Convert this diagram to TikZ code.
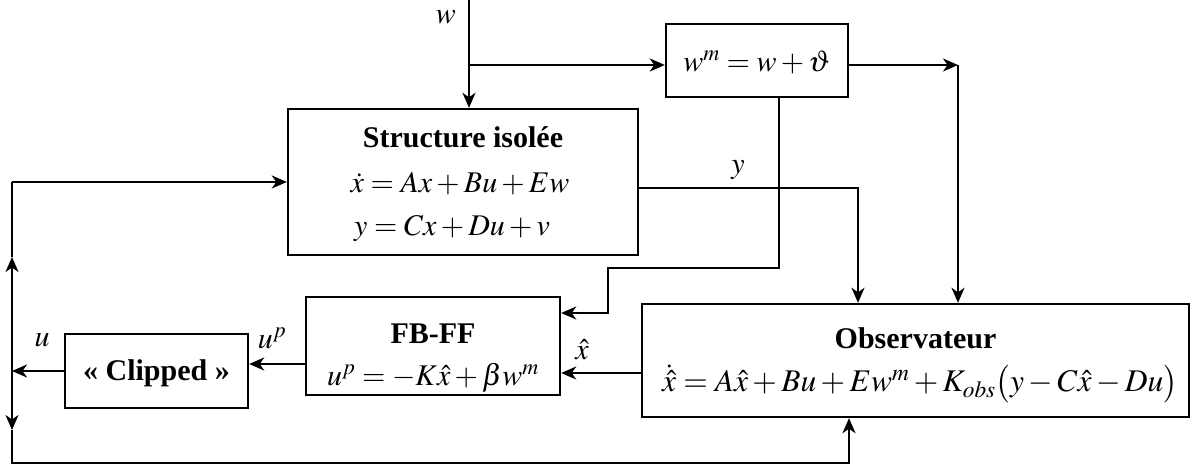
\documentclass[tikz,border=0pt]{standalone}
\usepackage{mathptmx}
\usepackage[no-math]{fontspec}
\setmainfont{Liberation Serif}
\usetikzlibrary{arrows.meta}
\begin{document}
\begin{tikzpicture}[x=1pt,y=1pt,
  line width=2.4pt,
  >={Stealth[length=15pt,width=13pt,inset=4.5pt]},
  blockbox/.style={draw,rectangle,inner sep=0pt},
  titletxt/.style={inner sep=0pt,font=\fontsize{30}{32}\selectfont\bfseries},
  eqtxt/.style={inner sep=0pt,font=\fontsize{30}{32}\selectfont},
  bigeq/.style={inner sep=0pt,font=\fontsize{31.5}{33}\selectfont},
  lbl/.style={inner sep=0pt,font=\fontsize{30}{32}\selectfont}]
\useasboundingbox (0,0) rectangle (1192,-468);
% boxes
\node[blockbox,minimum width=350pt,minimum height=146pt] (S) at (463,-182) {};
\node[blockbox,minimum width=182pt,minimum height=73pt] (W) at (757,-60.5) {};
\node[blockbox,minimum width=254pt,minimum height=98pt] (F) at (433,-346) {};
\node[blockbox,minimum width=183pt,minimum height=74pt] (C) at (156.5,-371) {};
\node[blockbox,minimum width=547pt,minimum height=113pt] (O) at (915.5,-360.5) {};
% texts
\node[titletxt] (St) at (463,-137) {Structure isolée};
\node[eqtxt] (Se1) at (460,-184) {$\dot{x} = Ax + Bu + Ew$};
\node[eqtxt] (Se2) at (452,-228) {$y = Cx + Du + v$};
\node[eqtxt] (We) at (757,-62) {$w^{m} = w + \vartheta$};
\node[titletxt] (Ft) at (433,-334) {FB-FF};
\node[eqtxt] (Fe) at (433,-378) {$u^{p} = -K\hat{x} + \beta w^{m}$};
\node[titletxt] (Ct) at (156.5,-373) {« Clipped »};
\node[titletxt] (Ot) at (915.5,-338) {Observateur};
\node[bigeq] (Oe) at (920,-384) {$\dot{\hat{x}} = A\hat{x} + Bu + Ew^{m} + K_{obs}\bigl(y - C\hat{x} - Du\bigr)$};
% labels
\node[lbl] (lw) at (446,-17) {$w$};
\node[lbl] (ly) at (738,-170) {$y$};
\node[lbl] (lxh) at (582,-350) {$\hat{x}$};
\node[lbl] (lup) at (272,-338) {$u^{p}$};
\node[lbl] (lu) at (42,-340) {$u$};
% coordinates
\coordinate (wtop) at (469,0);
\coordinate (wbr) at (469,-65);
\coordinate (wmc) at (958,-65);
\coordinate (wb1) at (779,-268);
\coordinate (wb2) at (608,-268);
\coordinate (wb3) at (608,-313);
\coordinate (yc) at (858,-188);
\coordinate (ul) at (12,-371);
\coordinate (lt) at (12,-182);
\coordinate (lup1) at (12,-257);
\coordinate (ldn1) at (12,-430);
\coordinate (lb) at (12,-463);
\coordinate (bb) at (849,-463);
% connectors
\draw[->] (wtop) -- (wtop |- S.north);
\draw[->] (wbr) -- (wbr -| W.west);
\draw[->] (W.east |- wmc) -- (wmc);
\draw[->] (wmc) -- (wmc |- O.north);
\draw[->] (W.south -| wb1) -- (wb1) -- (wb2) -- (wb3) -- (wb3 -| F.east);
\draw[->] (S.east |- yc) -- (yc) -- (yc |- O.north);
\draw[->] (O.west |- 0,-373) -- (F.east |- 0,-373);
\draw[->] (F.west |- 0,-364) -- (C.east |- 0,-364);
\draw[->] (C.west |- ul) -- (ul);
\draw[->] (lt) -- (lt -| S.west);
\draw (lt) -- (lup1);
\draw[->] (ul) -- (lup1);
\draw[->] (ul) -- (ldn1);
\draw[->] (ldn1) -- (lb) -- (bb) -- (bb |- O.south);
\end{tikzpicture}
\end{document}
